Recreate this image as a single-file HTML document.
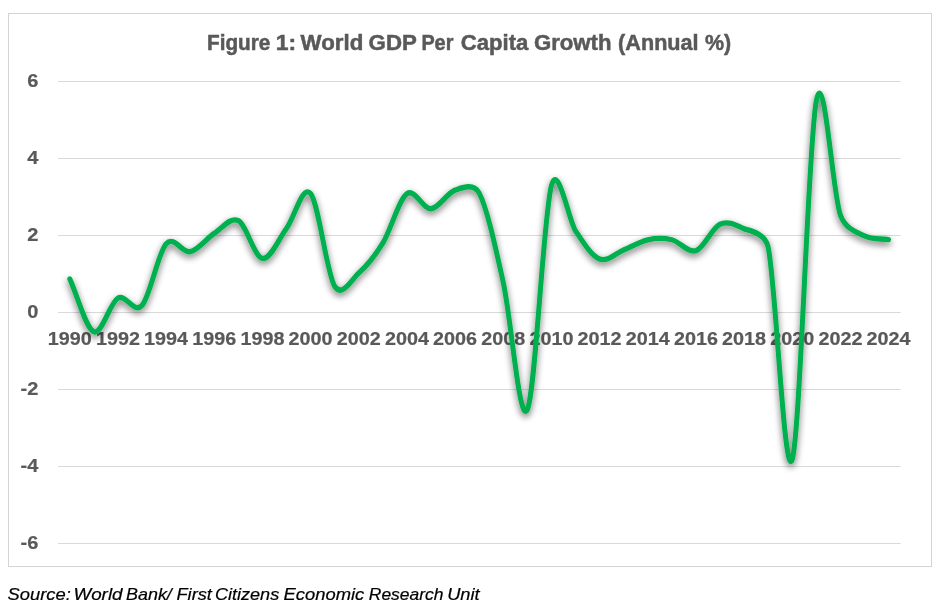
<!DOCTYPE html>
<html><head><meta charset="utf-8"><title>Figure 1: World GDP Per Capita Growth (Annual %)</title>
<style>
html,body{margin:0;padding:0;background:#fff;}
svg{display:block;font-family:"Liberation Sans",Arial,sans-serif;}
</style></head><body>
<svg width="941" height="607" viewBox="0 0 941 607">
<defs><filter id="sh" x="-5%" y="-5%" width="110%" height="112%"><feGaussianBlur in="SourceAlpha" stdDeviation="3.5 3.27"/><feOffset dx="0" dy="2.80"/><feComponentTransfer><feFuncA type="linear" slope="0.58"/></feComponentTransfer><feMerge><feMergeNode/><feMergeNode in="SourceGraphic"/></feMerge></filter></defs>
<rect width="941" height="607" fill="#fff"/>
<rect x="8.5" y="13.5" width="923" height="553" fill="#fff" stroke="#d4d4d4" stroke-width="1"/>
<g stroke="#d9d9d9" stroke-width="1">
<line x1="58" x2="900.7" y1="81.5" y2="81.5"/>
<line x1="58" x2="900.7" y1="158.5" y2="158.5"/>
<line x1="58" x2="900.7" y1="235.5" y2="235.5"/>
<line x1="58" x2="900.7" y1="312.5" y2="312.5"/>
<line x1="58" x2="900.7" y1="389.5" y2="389.5"/>
<line x1="58" x2="900.7" y1="466.5" y2="466.5"/>
<line x1="58" x2="900.7" y1="543.5" y2="543.5"/>
</g>
<g font-weight="bold" font-size="18.2" fill="#595959" stroke="#595959" stroke-width="0.2">
<text transform="translate(38.40 86.90) scale(1.100 1)" text-anchor="end">6</text>
<text transform="translate(38.40 163.87) scale(1.100 1)" text-anchor="end">4</text>
<text transform="translate(38.40 240.83) scale(1.100 1)" text-anchor="end">2</text>
<text transform="translate(38.40 317.80) scale(1.100 1)" text-anchor="end">0</text>
<text transform="translate(38.40 394.77) scale(1.100 1)" text-anchor="end">-2</text>
<text transform="translate(38.40 471.73) scale(1.100 1)" text-anchor="end">-4</text>
<text transform="translate(38.40 548.70) scale(1.100 1)" text-anchor="end">-6</text>
<text x="69.8" y="344.9" text-anchor="middle" textLength="44.0" lengthAdjust="spacingAndGlyphs">1990</text>
<text x="118.0" y="344.9" text-anchor="middle" textLength="44.0" lengthAdjust="spacingAndGlyphs">1992</text>
<text x="166.1" y="344.9" text-anchor="middle" textLength="44.0" lengthAdjust="spacingAndGlyphs">1994</text>
<text x="214.3" y="344.9" text-anchor="middle" textLength="44.0" lengthAdjust="spacingAndGlyphs">1996</text>
<text x="262.4" y="344.9" text-anchor="middle" textLength="44.0" lengthAdjust="spacingAndGlyphs">1998</text>
<text x="310.6" y="344.9" text-anchor="middle" textLength="44.0" lengthAdjust="spacingAndGlyphs">2000</text>
<text x="358.8" y="344.9" text-anchor="middle" textLength="44.0" lengthAdjust="spacingAndGlyphs">2002</text>
<text x="406.9" y="344.9" text-anchor="middle" textLength="44.0" lengthAdjust="spacingAndGlyphs">2004</text>
<text x="455.1" y="344.9" text-anchor="middle" textLength="44.0" lengthAdjust="spacingAndGlyphs">2006</text>
<text x="503.2" y="344.9" text-anchor="middle" textLength="44.0" lengthAdjust="spacingAndGlyphs">2008</text>
<text x="551.4" y="344.9" text-anchor="middle" textLength="44.0" lengthAdjust="spacingAndGlyphs">2010</text>
<text x="599.6" y="344.9" text-anchor="middle" textLength="44.0" lengthAdjust="spacingAndGlyphs">2012</text>
<text x="647.7" y="344.9" text-anchor="middle" textLength="44.0" lengthAdjust="spacingAndGlyphs">2014</text>
<text x="695.9" y="344.9" text-anchor="middle" textLength="44.0" lengthAdjust="spacingAndGlyphs">2016</text>
<text x="744.0" y="344.9" text-anchor="middle" textLength="44.0" lengthAdjust="spacingAndGlyphs">2018</text>
<text x="792.2" y="344.9" text-anchor="middle" textLength="44.0" lengthAdjust="spacingAndGlyphs">2020</text>
<text x="840.4" y="344.9" text-anchor="middle" textLength="44.0" lengthAdjust="spacingAndGlyphs">2022</text>
<text x="888.5" y="344.9" text-anchor="middle" textLength="44.0" lengthAdjust="spacingAndGlyphs">2024</text>
</g>
<g font-weight="bold" font-size="21.6" fill="#595959" stroke="#595959" stroke-width="0.5">
<text x="207.00" y="49.9" textLength="63.29" lengthAdjust="spacingAndGlyphs">Figure</text>
<text x="275.80" y="49.9" textLength="20.40" lengthAdjust="spacingAndGlyphs">1:</text>
<text x="300.60" y="49.9" textLength="62.71" lengthAdjust="spacingAndGlyphs">World</text>
<text x="368.60" y="49.9" textLength="48.19" lengthAdjust="spacingAndGlyphs">GDP</text>
<text x="421.40" y="49.9" textLength="31.96" lengthAdjust="spacingAndGlyphs">Per</text>
<text x="460.80" y="49.9" textLength="67.58" lengthAdjust="spacingAndGlyphs">Capita</text>
<text x="533.90" y="49.9" textLength="77.63" lengthAdjust="spacingAndGlyphs">Growth</text>
<text x="618.10" y="49.9" textLength="80.55" lengthAdjust="spacingAndGlyphs">(Annual</text>
<text x="705.00" y="49.9" textLength="26.22" lengthAdjust="spacingAndGlyphs">%)</text>
</g>
<path transform="scale(1 1.07)" d="M69.80 260.76 C77.83 277.18 85.85 307.06 93.88 310.03 C101.91 313.00 109.93 282.67 117.96 278.56 C125.99 274.46 134.01 293.85 142.04 285.40 C150.07 276.94 158.09 236.21 166.12 227.85 C174.15 219.49 182.17 236.84 190.20 235.22 C198.23 233.60 206.25 222.96 214.28 218.14 C222.31 213.31 230.33 202.37 238.36 206.27 C246.39 210.17 254.41 240.32 262.44 241.52 C270.47 242.72 278.49 223.56 286.52 213.46 C294.55 203.36 302.57 171.89 310.60 180.91 C318.63 189.94 326.65 255.21 334.68 267.59 C341.81 278.58 351.63 261.17 358.76 255.18 C366.79 248.44 374.81 239.48 382.84 227.13 C390.87 214.78 398.89 186.43 406.92 181.09 C414.95 175.76 422.97 195.69 431.00 195.12 C439.03 194.55 447.05 180.14 455.08 177.68 C460.70 175.96 473.54 170.33 479.16 180.38 C487.19 194.73 495.21 230.07 503.24 263.82 C511.27 297.56 519.29 397.91 527.32 382.86 C535.35 367.82 543.37 201.42 551.40 173.54 C558.03 150.50 568.85 206.18 575.48 215.62 C583.51 227.04 591.53 239.06 599.56 242.06 C607.59 245.05 615.61 236.60 623.64 233.60 C631.67 230.61 639.69 225.66 647.72 224.07 C655.75 222.49 663.77 222.37 671.80 224.07 C679.83 225.78 687.85 236.75 695.88 234.32 C703.91 231.90 711.93 212.92 719.96 209.51 C727.99 206.09 736.01 210.29 744.04 213.82 C747.12 215.18 765.04 216.95 768.12 230.73 C776.15 266.63 784.17 451.98 792.20 429.26 C800.23 406.54 808.25 132.48 816.28 94.42 C824.31 56.35 832.33 179.87 840.36 200.88 C845.73 214.93 859.07 217.91 864.44 220.48 C872.47 224.31 880.49 222.76 888.52 223.89" fill="none" stroke="#00b050" stroke-width="5.0" stroke-linecap="round" stroke-linejoin="round" filter="url(#sh)"/>
<g font-style="italic" font-size="16.2" fill="#000" stroke="#000" stroke-width="0.2">
<text x="7.50" y="599.5" textLength="63.25" lengthAdjust="spacingAndGlyphs">Source:</text>
<text x="73.40" y="599.5" textLength="49.16" lengthAdjust="spacingAndGlyphs">World</text>
<text x="126.00" y="599.5" textLength="45.87" lengthAdjust="spacingAndGlyphs">Bank/</text>
<text x="176.50" y="599.5" textLength="35.33" lengthAdjust="spacingAndGlyphs">First</text>
<text x="214.90" y="599.5" textLength="64.30" lengthAdjust="spacingAndGlyphs">Citizens</text>
<text x="283.60" y="599.5" textLength="80.68" lengthAdjust="spacingAndGlyphs">Economic</text>
<text x="368.80" y="599.5" textLength="74.63" lengthAdjust="spacingAndGlyphs">Research</text>
<text x="447.20" y="599.5" textLength="32.47" lengthAdjust="spacingAndGlyphs">Unit</text>
</g>
</svg>
</body></html>
